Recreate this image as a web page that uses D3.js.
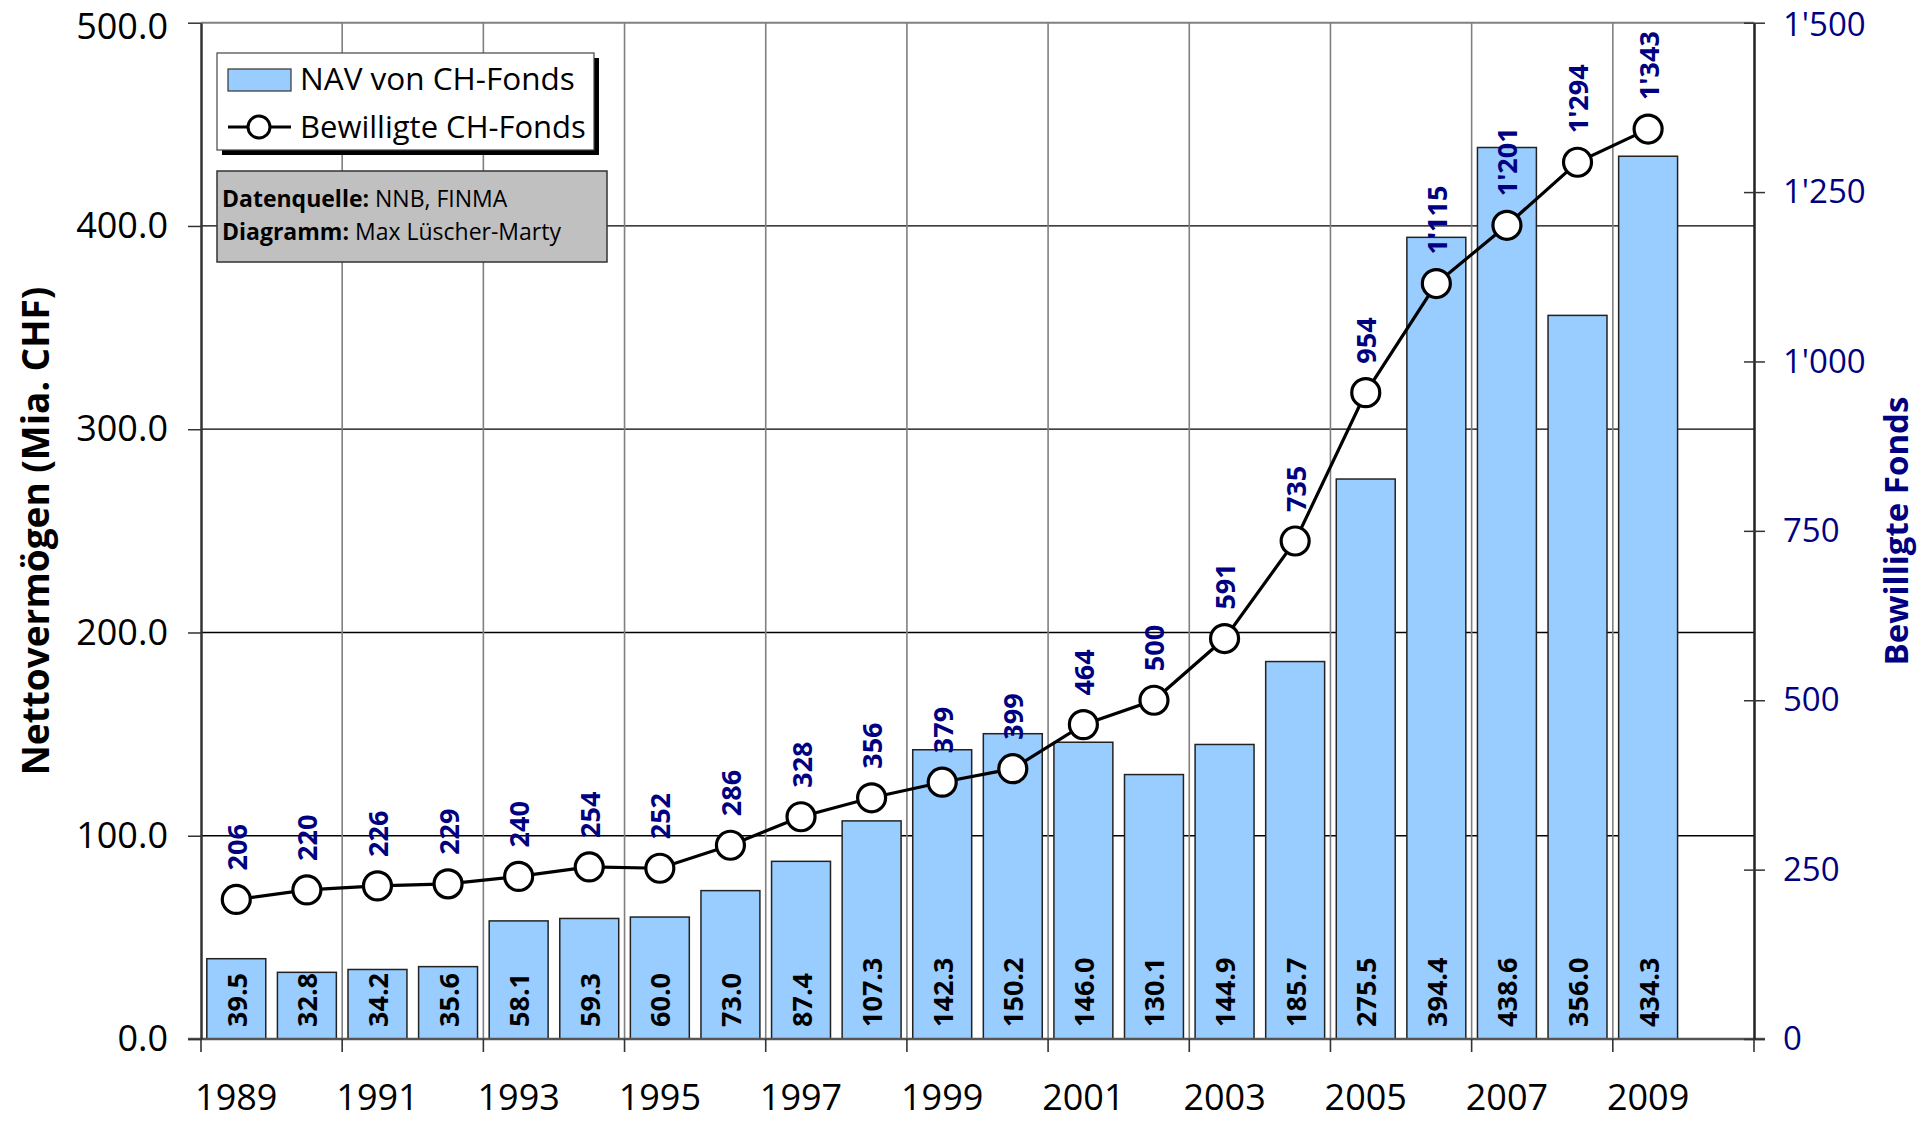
<!DOCTYPE html>
<html>
<head>
<meta charset="utf-8">
<script src="https://cdn.jsdelivr.net/npm/d3@7"></script>
<style>
  html, body { margin: 0; padding: 0; background: #fff; }
  svg { display: block; font-family: "Open Sans", "Noto Sans", sans-serif; }
</style>
</head>
<body>
<svg id="chart" width="1932" height="1121"></svg>
<script>
// ---- Data ----
const years = [1989, 1990, 1991, 1992, 1993, 1994, 1995, 1996, 1997, 1998, 1999,
               2000, 2001, 2002, 2003, 2004, 2005, 2006, 2007, 2008, 2009];
const navValues = [39.5, 32.8, 34.2, 35.6, 58.1, 59.3, 60.0, 73.0, 87.4, 107.3, 142.3,
                   150.2, 146.0, 130.1, 144.9, 185.7, 275.5, 394.4, 438.6, 356.0, 434.3];
const fundCounts = [206, 220, 226, 229, 240, 254, 252, 286, 328, 356, 379,
                    399, 464, 500, 591, 735, 954, 1115, 1201, 1294, 1343];
const leftTicks = [0, 100, 200, 300, 400, 500];
const rightTicks = [0, 250, 500, 750, 1000, 1250, 1500];
const yearLabels = [1989, 1991, 1993, 1995, 1997, 1999, 2001, 2003, 2005, 2007, 2009];
const seriesNames = ["NAV von CH-Fonds", "Bewilligte CH-Fonds"];
const leftTitle = "Nettovermögen (Mia. CHF)";
const rightTitle = "Bewilligte Fonds";
const sourceLines = [["Datenquelle:", " NNB, FINMA"], ["Diagramm:", " Max Lüscher-Marty"]];

// ---- Layout ----
const L = 201, R = 1754, T = 22.7, B = 1039;
const NAVY = "#000080";
const BAR = "#99ccff";

const svg = d3.select("#chart");
const slots = years.concat([years[years.length - 1] + 1]); // one empty slot on the right

const x = d3.scaleBand().domain(slots).range([L, R]).padding(0);
const step = x.step();
const barW = step * 0.835;
const yL = d3.scaleLinear().domain([0, 500]).range([B, T]);
const yR = d3.scaleLinear().domain([0, 1500]).range([B, T]);

const loc = d3.formatLocale({decimal: ".", thousands: "'", grouping: [3], currency: ["", ""]});
const fmtR = loc.format(",");
const fmtL = d3.format(".1f");

// horizontal gridlines
svg.append("g").selectAll("line").data(leftTicks.filter(v => v > 0 && v < 500)).join("line")
  .attr("x1", L).attr("x2", R).attr("y1", d => yL(d)).attr("y2", d => yL(d))
  .attr("stroke", "#000").attr("stroke-width", 1.3);
// top line
svg.append("line").attr("x1", L).attr("x2", R).attr("y1", yL(500)).attr("y2", yL(500))
  .attr("stroke", "#808080").attr("stroke-width", 2);

// vertical gridlines at every 2nd category boundary
const boundaries = slots.filter((d, i) => i > 0 && i % 2 === 0);
svg.append("g").selectAll("line").data(boundaries).join("line")
  .attr("x1", d => x(d)).attr("x2", d => x(d)).attr("y1", T).attr("y2", B)
  .attr("stroke", "#808080").attr("stroke-width", 1.6);

// bars
svg.append("g").selectAll("rect").data(years).join("rect")
  .attr("x", (d) => x(d) + (step - barW) / 2)
  .attr("width", barW)
  .attr("y", (d, i) => yL(navValues[i]))
  .attr("height", (d, i) => B - yL(navValues[i]))
  .attr("fill", BAR).attr("stroke", "#222").attr("stroke-width", 1.5);

// bar labels
svg.append("g").selectAll("text").data(years).join("text")
  .attr("transform", d => `translate(${x(d) + step / 2},${B - 12}) rotate(-90)`)
  .attr("dominant-baseline", "central")
  .attr("text-anchor", "start")
  .attr("font-size", 27).attr("font-weight", "bold").attr("fill", "#000")
  .text((d, i) => fmtL(navValues[i]));

// x axis line
svg.append("line").attr("x1", L - 13).attr("x2", R + 11).attr("y1", B).attr("y2", B)
  .attr("stroke", "#555").attr("stroke-width", 2.5);

// x ticks (below axis at boundaries)
const xTickPos = [L].concat(boundaries.map(d => x(d))).concat([R]);
svg.append("g").selectAll("line").data(xTickPos).join("line")
  .attr("x1", d => d).attr("x2", d => d).attr("y1", B).attr("y2", B + 13)
  .attr("stroke", "#333").attr("stroke-width", 1.6);

// x labels
svg.append("g").selectAll("text").data(yearLabels).join("text")
  .attr("x", d => x(d) + step / 2).attr("y", 1110)
  .attr("text-anchor", "middle").attr("font-size", 36).attr("fill", "#000")
  .text(d => d);

// left axis
const gL = svg.append("g").attr("transform", `translate(${L},0)`)
  .call(d3.axisLeft(yL).tickValues(leftTicks).tickFormat(fmtL).tickSizeOuter(0).tickSizeInner(13).tickPadding(20));
gL.select(".domain").attr("stroke", "#333").attr("stroke-width", 2.5);
gL.selectAll(".tick line").attr("stroke", "#333").attr("stroke-width", 1.5);
gL.selectAll(".tick text").attr("font-size", 36).attr("fill", "#000").attr("font-family", "Open Sans, Noto Sans, sans-serif");
// keep the top label inside the picture
gL.selectAll(".tick text").filter(d => d === 500).attr("y", 4);

// right axis
const gR = svg.append("g").attr("transform", `translate(${R},0)`)
  .call(d3.axisRight(yR).tickValues(rightTicks).tickFormat(fmtR).tickSizeOuter(0).tickSizeInner(11).tickPadding(18));
gR.select(".domain").attr("stroke", "#222").attr("stroke-width", 2.5);
gR.selectAll(".tick line").attr("x1", -10).attr("stroke", "#333").attr("stroke-width", 1.5);
gR.selectAll(".tick text").attr("font-size", 33).attr("fill", NAVY).attr("font-family", "Open Sans, Noto Sans, sans-serif");
gR.selectAll(".tick text").filter(d => d === 1500).attr("y", 2);

// line series
const line = d3.line().x((d, i) => x(years[i]) + step / 2).y(d => yR(d));
svg.append("path").datum(fundCounts).attr("d", line)
  .attr("fill", "none").attr("stroke", "#000").attr("stroke-width", 3.2);
svg.append("g").selectAll("circle").data(fundCounts).join("circle")
  .attr("cx", (d, i) => x(years[i]) + step / 2).attr("cy", d => yR(d)).attr("r", 14)
  .attr("fill", "#fff").attr("stroke", "#000").attr("stroke-width", 3.2);
// point labels
svg.append("g").selectAll("text").data(fundCounts).join("text")
  .attr("transform", (d, i) => `translate(${x(years[i]) + step / 2},${yR(d) - 29}) rotate(-90)`)
  .attr("dominant-baseline", "central").attr("text-anchor", "start")
  .attr("font-size", 27).attr("font-weight", "bold").attr("fill", NAVY)
  .text(d => fmtR(d));

// axis titles
svg.append("text").attr("transform", `translate(34,531) rotate(-90)`)
  .attr("text-anchor", "middle").attr("dominant-baseline", "central")
  .attr("font-size", 37).attr("font-weight", "bold").attr("fill", "#000").text(leftTitle);
svg.append("text").attr("transform", `translate(1895,531) rotate(-90)`)
  .attr("text-anchor", "middle").attr("dominant-baseline", "central")
  .attr("font-size", 33).attr("font-weight", "bold").attr("fill", NAVY).text(rightTitle);

// legend
const lg = svg.append("g");
lg.append("rect").attr("x", 222).attr("y", 58).attr("width", 377).attr("height", 97).attr("fill", "#000");
lg.append("rect").attr("x", 217).attr("y", 53).attr("width", 377).attr("height", 97)
  .attr("fill", "#fff").attr("stroke", "#444").attr("stroke-width", 1.2);
lg.append("rect").attr("x", 228).attr("y", 69).attr("width", 63).attr("height", 22)
  .attr("fill", BAR).attr("stroke", "#333").attr("stroke-width", 1.2);
lg.append("text").attr("x", 300).attr("y", 90).attr("font-size", 31.5).attr("fill", "#000").text(seriesNames[0]);
lg.append("line").attr("x1", 228).attr("x2", 291).attr("y1", 127).attr("y2", 127)
  .attr("stroke", "#000").attr("stroke-width", 3);
lg.append("circle").attr("cx", 259).attr("cy", 127).attr("r", 11)
  .attr("fill", "#fff").attr("stroke", "#000").attr("stroke-width", 3);
lg.append("text").attr("x", 300).attr("y", 138).attr("font-size", 31).attr("fill", "#000").text(seriesNames[1]);

// source box
const sb = svg.append("g");
sb.append("rect").attr("x", 217).attr("y", 171).attr("width", 390).attr("height", 91)
  .attr("fill", "#c0c0c0").attr("stroke", "#333").attr("stroke-width", 1.5);
sourceLines.forEach((ln, i) => {
  const t = sb.append("text").attr("x", 222).attr("y", 207 + i * 33).attr("font-size", 23).attr("fill", "#000");
  t.append("tspan").attr("font-weight", "bold").text(ln[0]);
  t.append("tspan").text(ln[1]);
});
</script>
</body>
</html>
